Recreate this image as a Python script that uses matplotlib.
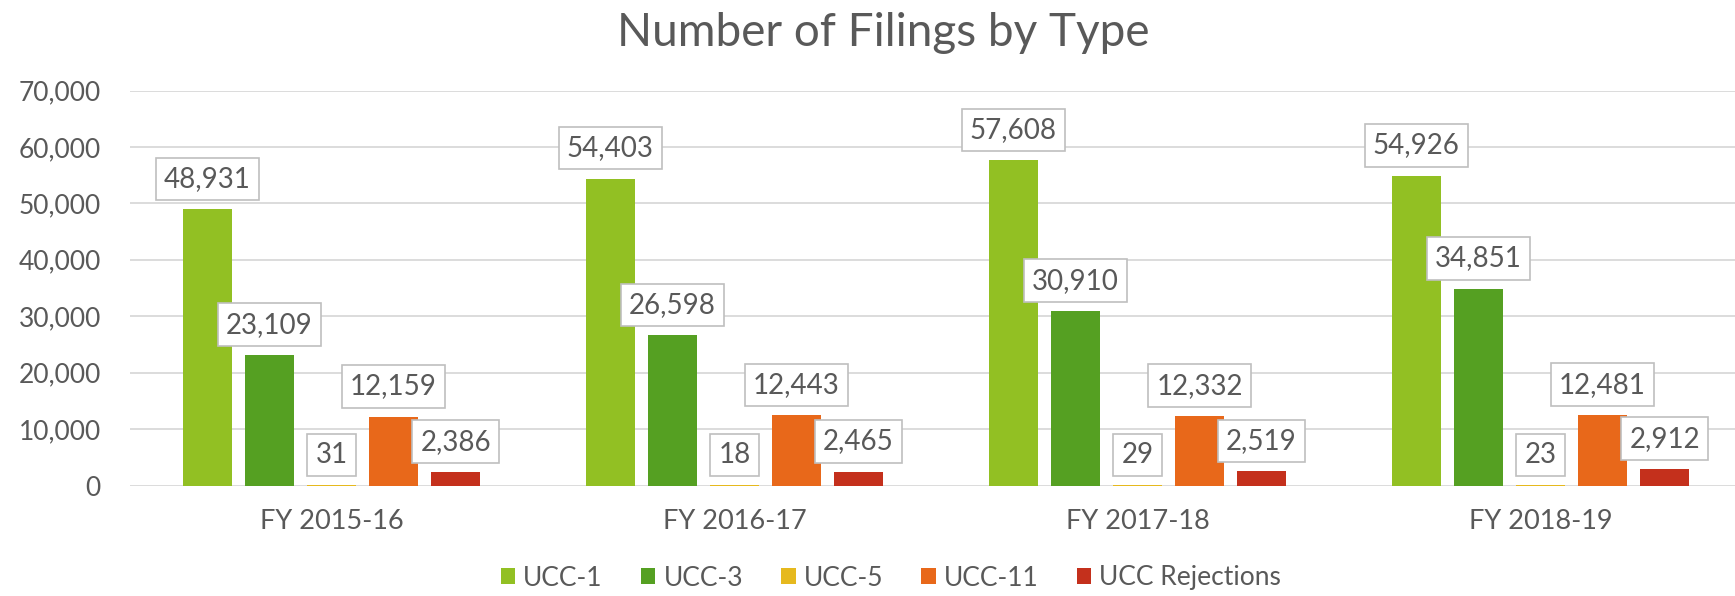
import matplotlib
matplotlib.use("Agg")
import matplotlib.pyplot as plt
import numpy as np

categories = ["FY 2015-16", "FY 2016-17", "FY 2017-18", "FY 2018-19"]
series_names = ["UCC-1", "UCC-3", "UCC-5", "UCC-11", "UCC Rejections"]
ucc1 = [48931, 54403, 57608, 54926]
ucc3 = [23109, 26598, 30910, 34851]
ucc5 = [31, 18, 29, 23]
ucc11 = [12159, 12443, 12332, 12481]
rejections = [2386, 2465, 2519, 2912]
colors = ["#92C023", "#55A022", "#E6B91E", "#E8681A", "#C4301C"]
yticks = [0, 10000, 20000, 30000, 40000, 50000, 60000, 70000]

plt.rcParams['font.family'] = ['Lato', 'DejaVu Sans']
TXT = "#595959"

W, H = 1735, 596
fig = plt.figure(figsize=(W / 100, H / 100), dpi=100)
ax = fig.add_axes([130 / W, 1 - 485.5 / H, 1612 / W, (485.5 - 90.5) / H])

data = [ucc1, ucc3, ucc5, ucc11, rejections]
x = np.arange(len(categories))
pitch = 0.154
bw = 0.12
for i, (name, vals, c) in enumerate(zip(series_names, data, colors)):
    xs = x + (i - 2) * pitch
    ax.bar(xs, vals, width=bw, color=c, label=name, zorder=2)
    for xi, v in zip(xs, vals):
        ax.annotate(f"{v:,}", xy=(xi, v), xytext=(0, 12.5), textcoords="offset points",
                    ha="center", va="bottom", fontsize=20, color=TXT, zorder=5,
                    bbox=dict(boxstyle="square,pad=0.3", fc="white", ec="#BFBFBF", lw=1.2))

ax.set_xlim(-0.5, 3.5)
ax.set_ylim(0, 70000)
ax.set_yticks(yticks)
ax.set_yticklabels([f"{t:,}" for t in yticks])
ax.set_xticks(x)
ax.set_xticklabels(categories)
ax.grid(axis="y", color="#D9D9D9", lw=1.3, zorder=0)
ax.set_axisbelow(True)
for s in ax.spines.values():
    s.set_visible(False)
ax.tick_params(axis="y", length=0, pad=21, labelsize=19, labelcolor=TXT)
ax.tick_params(axis="x", length=0, pad=17, labelsize=19.5, labelcolor=TXT)

fig.text(883 / W, 1 - 46 / H, "Number of Filings by Type", ha="center", va="baseline",
         fontsize=33, color=TXT)

leg = fig.legend(loc="center", bbox_to_anchor=(891 / W, 1 - 578 / H), ncol=5, frameon=False,
                 fontsize=19, handlelength=0.55, handleheight=0.55, handletextpad=0.3,
                 columnspacing=1.45, labelcolor=TXT)

fig.savefig("out.png", dpi=100)
